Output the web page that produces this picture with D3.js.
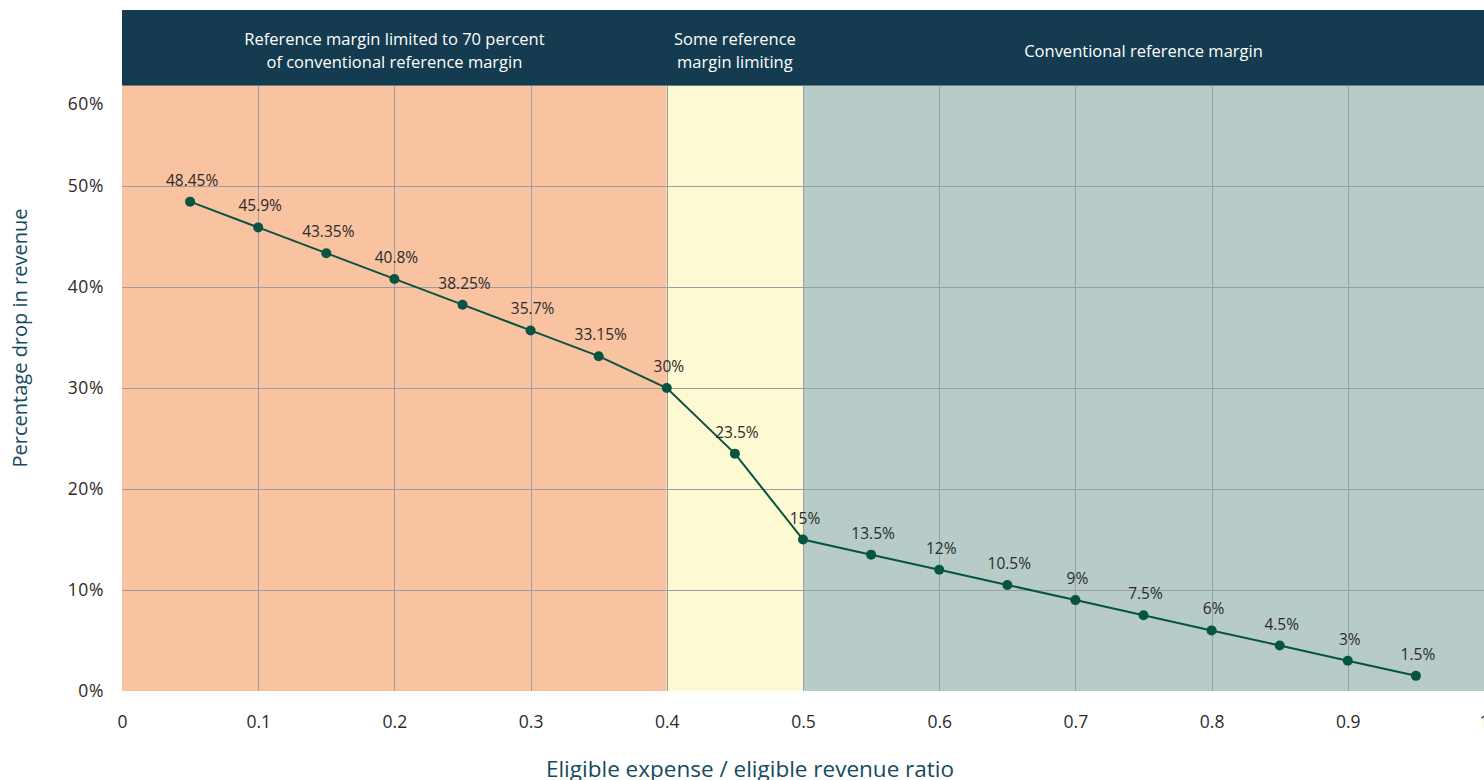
<!DOCTYPE html>
<html><head><meta charset="utf-8">
<script src="https://cdn.jsdelivr.net/npm/d3@7"></script>
<style>body{margin:0;background:#fff;}svg{display:block;font-family:"Open Sans","Noto Sans",sans-serif;}</style>
</head><body><svg id="c" width="1484" height="780"></svg>
<script>
const ratios = [0.05,0.1,0.15,0.2,0.25,0.3,0.35,0.4,0.45,0.5,0.55,0.6,0.65,0.7,0.75,0.8,0.85,0.9,0.95];
const drops = [48.45,45.9,43.35,40.8,38.25,35.7,33.15,30,23.5,15,13.5,12,10.5,9,7.5,6,4.5,3,1.5];
const labels = ["48.45%","45.9%","43.35%","40.8%","38.25%","35.7%","33.15%","30%","23.5%","15%","13.5%","12%","10.5%","9%","7.5%","6%","4.5%","3%","1.5%"];
const zoneStarts = [0,0.4,0.5];
const zoneEnds = [0.4,0.5,1];
const zoneNames = [["Reference margin limited to 70 percent","of conventional reference margin"],["Some reference","margin limiting"],["Conventional reference margin"]];
const zoneColors = ["#f9c2a0","#fdf9d2","#b7cbc9"];
const xTicks = [0,0.1,0.2,0.3,0.4,0.5,0.6,0.7,0.8,0.9,1];
const yTicks = [0,10,20,30,40,50,60];

const svg = d3.select("#c");
const x = d3.scaleLinear().domain([0,1]).range([122,1484]);
const y = d3.scaleLinear().domain([0,60]).range([691,85]);

// zones
svg.selectAll("rect.zone").data(zoneStarts).join("rect")
  .attr("x",(d)=>x(d)).attr("y",y(60))
  .attr("width",(d,i)=>x(zoneEnds[i])-x(d)).attr("height",y(0)-y(60))
  .attr("fill",(d,i)=>zoneColors[i]);

// header
svg.append("rect").attr("x",x(0)).attr("y",10).attr("width",x(1)-x(0)).attr("height",75).attr("fill","#143b4f");
svg.append("line").attr("x1",x(0)).attr("x2",x(1)).attr("y1",85.5).attr("y2",85.5).attr("stroke","#5f7f8a").attr("stroke-width",1);

zoneStarts.forEach((s,i)=>{
  const cx=(x(s)+x(zoneEnds[i]))/2;
  const lines=zoneNames[i];
  const t=svg.append("text").attr("x",cx).attr("text-anchor","middle").attr("fill","#fff").attr("font-size",16.5);
  lines.forEach((l,j)=>{
    const base = lines.length===1 ? 57 : 45 + j*23;
    t.append("tspan").attr("x",cx).attr("y",base).text(l);
  });
});

// grid
const g=svg.append("g");
g.selectAll("line.vg").data(xTicks.filter(d=>d>0&&d<1)).join("line")
  .attr("x1",d=>Math.round(x(d))+0.5).attr("x2",d=>Math.round(x(d))+0.5)
  .attr("y1",y(60)+1).attr("y2",y(0)).attr("stroke","#9a9fa0").attr("stroke-width",1);
g.selectAll("line.hg").data(yTicks.filter(d=>d>0&&d<60)).join("line")
  .attr("x1",x(0)).attr("x2",x(1))
  .attr("y1",d=>Math.round(y(d))+0.5).attr("y2",d=>Math.round(y(d))+0.5).attr("stroke","#9a9fa0").attr("stroke-width",1);

// axes
const xAxis = svg.append("g").attr("transform",`translate(0,${y(0)})`)
  .call(d3.axisBottom(x).tickValues(xTicks).tickSize(0).tickPadding(25).tickFormat(d=>d3.format("")(d)));
xAxis.select(".domain").remove();
xAxis.selectAll("text").attr("font-size",17.5).attr("fill","#2b2b2b").attr("font-family","'Open Sans','Noto Sans',sans-serif");

const yAxis = svg.append("g").attr("transform",`translate(${x(0)},0)`)
  .call(d3.axisLeft(y).tickValues(yTicks).tickSize(0).tickPadding(18).tickFormat(d=>d+"%"));
yAxis.select(".domain").remove();
yAxis.selectAll("text").attr("font-size",17.5).attr("letter-spacing",0.6).attr("fill","#2b2b2b").attr("font-family","'Open Sans','Noto Sans',sans-serif");
yAxis.selectAll(".tick").filter(d=>d===60).select("text").attr("y",19);

// line
const line=d3.line().x((d,i)=>x(ratios[i])).y(d=>y(d));
svg.append("path").datum(drops).attr("d",line).attr("fill","none").attr("stroke","#075443").attr("stroke-width",2);
svg.selectAll("circle.pt").data(drops).join("circle")
  .attr("cx",(d,i)=>x(ratios[i])).attr("cy",d=>y(d)).attr("r",5).attr("fill","#075443");
svg.selectAll("text.lbl").data(drops).join("text")
  .attr("x",(d,i)=>x(ratios[i])+2).attr("y",d=>y(d)-16)
  .attr("text-anchor","middle").attr("font-size",15.5).attr("fill","#2b2b2b").text((d,i)=>labels[i]);

// axis titles
svg.append("text").attr("x",750).attr("y",777).attr("text-anchor","middle").attr("font-size",22.5).attr("fill","#164a5e").text("Eligible expense / eligible revenue ratio");
svg.append("text").attr("transform","translate(27,338) rotate(-90)").attr("text-anchor","middle").attr("font-size",20).attr("fill","#164a5e").text("Percentage drop in revenue");
</script></body></html>
